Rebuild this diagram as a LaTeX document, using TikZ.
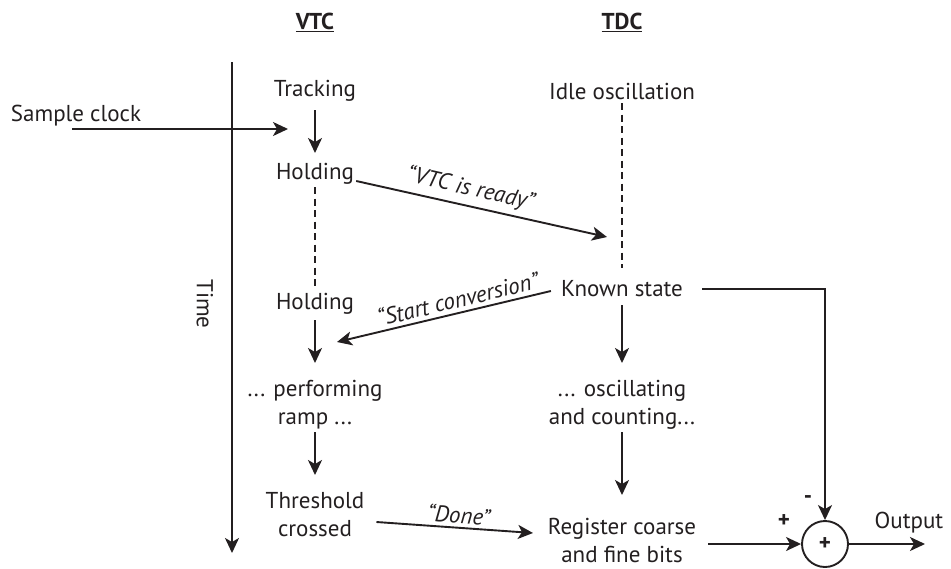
\documentclass[tikz,border=0pt]{standalone}
\usepackage{fontspec}
\setmainfont{PT Sans}
\usetikzlibrary{arrows.meta,calc}
\definecolor{ink}{RGB}{35,31,32}
\begin{document}
\begin{tikzpicture}[x=1pt,y=-1pt,
  every node/.style={text=ink},
  lbl/.style={font=\fontsize{23}{28}\selectfont, align=center, inner sep=2pt},
  qlbl/.style={font=\fontsize{23}{26}\selectfont\itshape, inner sep=1pt},
  head/.style={font=\fontsize{23}{26}\selectfont\bfseries},
  sgn/.style={font=\fontsize{23}{26}\selectfont\bfseries, inner sep=0pt},
  wire/.style={draw=ink, line width=1.9pt},
  arr/.style={wire, -{Stealth[length=15pt,width=14pt,inset=4pt]}},
  dsh/.style={draw=ink, line width=1.6pt, dash pattern=on 7pt off 4.5pt},
  summer/.style={circle, draw=ink, line width=1.9pt, minimum size=46pt, inner sep=0pt,
                 font=\fontsize{23}{26}\selectfont\bfseries}]
\path[use as bounding box] (0,0) rectangle (951,568);

% column headings
\node[head] (vtch) at (315,22) {\underline{VTC}};
\node[head] (tdch) at (622,22) {\underline{TDC}};

% time axis
\coordinate (ttop) at (232,62);
\coordinate (tbot) at (232,553);
\draw[arr] (ttop) -- (tbot);
\node[lbl, rotate=-90] (time) at (205,304) {Time};

% sample clock input
\node[lbl] (clk) at (76,116) {Sample clock};
\coordinate (clkstart) at (72,129);
\coordinate (clkend) at (288,129);
\draw[arr] (clkstart) -- (clkend);

% VTC states
\node[lbl] (track)  at (315,91)  {Tracking};
\node[lbl] (hold1)  at (315,174) {Holding};
\node[lbl] (hold2)  at (315,304) {Holding};
\node[lbl] (ramp)   at (315,405) {... performing\\ramp ...};
\node[lbl] (thresh) at (315,515) {Threshold\\crossed};

% TDC states
\node[lbl] (idle)  at (622,91)  {Idle oscillation};
\node[lbl] (known) at (622,289) {Known state};
\node[lbl] (osc)   at (622,405) {... oscillating\\and counting...};
\node[lbl] (reg)   at (622,540) {Register coarse\\and fine bits};

% summing junction
\node[summer] (sum) at (825,544) {+};
\node[sgn] (plus)  at (784,521) {+};
\node[sgn] (minus) at (808,500) {-};
\node[lbl] (out) at (909,523) {Output};
\coordinate (outend) at (925,544);
\coordinate (inpt) at (708,544);

% VTC sequence
\draw[arr, shorten <=19pt, shorten >=21pt] (track.center) -- (hold1.center);
\draw[dsh, shorten <=13pt, shorten >=17pt] (hold1.center) -- (hold2.center);
\draw[arr, shorten <=16pt, shorten >=42pt] (hold2.center) -- (ramp.center);
\draw[arr, shorten <=27pt, shorten >=40pt] (ramp.center) -- (thresh.center);

% TDC sequence
\draw[dsh, shorten <=12pt, shorten >=21pt] (idle.center) -- (known.center);
\draw[arr, shorten <=16pt, shorten >=42pt] (known.center) -- (osc.center);
\draw[arr, shorten <=27pt, shorten >=45pt] (osc.center) -- (reg.center);

% handshakes between the converters
\coordinate (readyend) at (607,237);
\draw[arr] ([xshift=0pt,yshift=-7pt]hold1.east) -- (readyend)
  node[qlbl, sloped, above, pos=0.44, yshift=4pt] {“VTC is ready”};
\coordinate (startend) at (337,342);
\draw[arr] ([xshift=-8pt,yshift=-2pt]known.west) -- (startend)
  node[qlbl, sloped, above, pos=0.42, yshift=3pt] {“Start conversion”};
\coordinate (doneend) at (533,533);
\draw[arr] ([xshift=10pt,yshift=-7pt]thresh.east) -- (doneend)
  node[qlbl, sloped, above, pos=0.52, yshift=2pt] {“Done”};

% output path
\draw[arr] ([xshift=17pt]known.east) -| (sum.north);
\draw[arr] (inpt) -- (sum.west);
\draw[arr] (sum.east) -- (outend);
\end{tikzpicture}
\end{document}
